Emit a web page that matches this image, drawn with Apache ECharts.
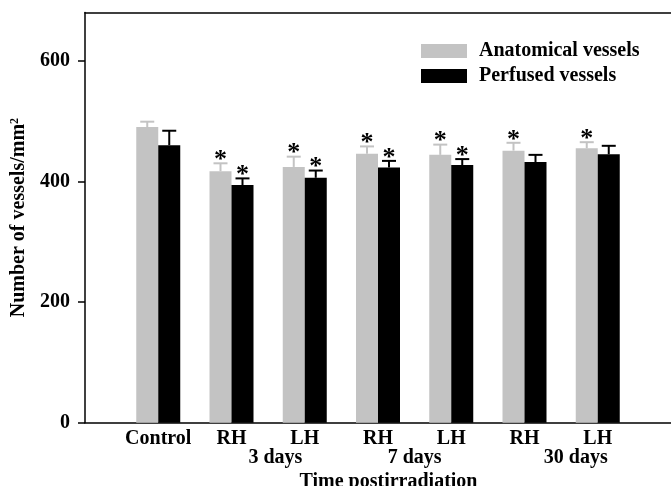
<!DOCTYPE html>
<html>
<head>
<meta charset="utf-8">
<script src="https://cdn.jsdelivr.net/npm/echarts@6/dist/echarts.min.js"></script>
<style>
    html, body { margin: 0; padding: 0; background: #fff; }
    #main { width: 671px; height: 486px; }
</style>
</head>
<body>
<div id="main"></div>
<script>
// 类别与数据
var groups = ['Control', 'RH', 'LH', 'RH', 'LH', 'RH', 'LH'];
var periodNames = ['3 days', '7 days', '30 days'];
var periodPos = [2.6, 4.5, 6.7];
var yTicks = [0, 200, 400, 600];

var anatomical = [490, 417, 424, 446, 444, 451, 455];
var anatomicalErr = [9, 13, 17, 12, 17, 13, 10];
var anatomicalStar = [0, 1, 1, 1, 1, 1, 1];

var perfused = [460, 394, 406, 423, 427, 432, 445];
var perfusedErr = [24, 11, 12, 11, 10, 12, 14];
var perfusedStar = [0, 1, 1, 1, 1, 0, 0];

var grayColor = '#c3c3c3';
var font = '"Liberation Serif", "Times New Roman", serif';
var barW = 22;

// 两端留空的类目轴
var xData = [''].concat(groups).concat(['']);

function pairs(vals) {
    return vals.map(function (v, i) { return [i + 1, v]; });
}
function errData(vals, errs, stars) {
    return vals.map(function (v, i) { return [i + 1, v, errs[i], stars[i]]; });
}

function makeErrRender(offset, color) {
    return function (params, api) {
        var base = api.coord([api.value(0), api.value(1)]);
        var top = api.coord([api.value(0), api.value(1) + api.value(2)]);
        var cx = base[0] + offset;
        var children = [{
            type: 'line',
            shape: { x1: cx, y1: base[1], x2: cx, y2: top[1] },
            style: { stroke: color, lineWidth: 2 }
        }, {
            type: 'line',
            shape: { x1: cx - 7, y1: top[1], x2: cx + 7, y2: top[1] },
            style: { stroke: color, lineWidth: 2 }
        }];
        if (api.value(3)) {
            children.push({
                type: 'text',
                x: cx,
                y: top[1] - 3,
                style: {
                    text: '*',
                    font: 'bold 26px ' + font,
                    fill: '#000',
                    align: 'center',
                    verticalAlign: 'middle'
                }
            });
        }
        return { type: 'group', children: children };
    };
}

var dom = document.getElementById('main');
var myChart = echarts.init(dom);
var option = {
    backgroundColor: '#fff',
    animation: false,
    textStyle: { fontFamily: font },
    legend: {
        orient: 'vertical',
        left: 421,
        top: 41,
        padding: 0,
        icon: 'rect',
        itemWidth: 46,
        itemHeight: 14,
        itemGap: 5,
        data: ['Anatomical vessels', 'Perfused vessels'],
        textStyle: {
            fontFamily: font,
            fontWeight: 'bold',
            fontSize: 20,
            color: '#000',
            padding: [0, 0, 0, 7]
        }
    },
    grid: {
        left: 85,
        right: 0,
        top: 12.5,
        bottom: 63.3,
        containLabel: false,
        outerBoundsMode: 'none'
    },
    xAxis: [{
        type: 'category',
        data: xData,
        boundaryGap: false,
        position: 'bottom',
        name: 'Time postirradiation',
        nameLocation: 'middle',
        nameGap: 49,
        nameTextStyle: {
            fontFamily: font,
            fontWeight: 'bold',
            fontSize: 20,
            color: '#000',
            padding: [0, 0, 0, 21]
        },
        axisLine: { lineStyle: { color: '#000', width: 1.5 } },
        axisTick: { show: false },
        splitLine: { show: false },
        axisLabel: {
            interval: 0,
            margin: 6,
            fontFamily: font,
            fontWeight: 'bold',
            fontSize: 20,
            color: '#000'
        }
    }, {
        type: 'value',
        min: 0,
        max: 8,
        position: 'bottom',
        offset: 19,
        axisLine: { show: false },
        axisTick: { show: false },
        splitLine: { show: false },
        axisLabel: {
            customValues: periodPos,
            margin: 6,
            fontFamily: font,
            fontWeight: 'bold',
            fontSize: 20,
            color: '#000',
            formatter: function (v) {
                for (var i = 0; i < periodPos.length; i++) {
                    if (Math.abs(periodPos[i] - v) < 1e-6) return periodNames[i];
                }
                return '';
            }
        }
    }, {
        type: 'value',
        min: 0,
        max: 8,
        position: 'top',
        axisLine: { show: true, lineStyle: { color: '#000', width: 1.5 } },
        axisTick: { show: false },
        axisLabel: { show: false },
        splitLine: { show: false }
    }],
    yAxis: {
        type: 'value',
        min: 0,
        max: 680,
        interval: 200,
        name: 'Number of vessels/mm{sup|2}',
        nameLocation: 'middle',
        nameGap: 47,
        nameTextStyle: {
            fontFamily: font,
            fontWeight: 'bold',
            fontSize: 20,
            color: '#000',
            rich: {
                sup: {
                    fontFamily: font,
                    fontWeight: 'bold',
                    fontSize: 12,
                    color: '#000',
                    verticalAlign: 'top'
                }
            }
        },
        axisLine: { show: true, lineStyle: { color: '#000', width: 1.5 } },
        axisTick: {
            show: true,
            length: 7,
            customValues: yTicks,
            lineStyle: { color: '#000', width: 1.5 }
        },
        splitLine: { show: false },
        axisLabel: {
            customValues: yTicks,
            margin: 15,
            fontFamily: font,
            fontWeight: 'bold',
            fontSize: 20,
            color: '#000'
        }
    },
    series: [{
        name: 'Anatomical vessels',
        type: 'bar',
        xAxisIndex: 0,
        barWidth: barW,
        barGap: '0%',
        itemStyle: { color: grayColor },
        data: pairs(anatomical)
    }, {
        name: 'Perfused vessels',
        type: 'bar',
        xAxisIndex: 0,
        barWidth: barW,
        barGap: '0%',
        itemStyle: { color: '#000' },
        data: pairs(perfused)
    }, {
        type: 'custom',
        xAxisIndex: 0,
        renderItem: makeErrRender(-barW / 2, grayColor),
        encode: { x: 0, y: 1 },
        z: 3,
        data: errData(anatomical, anatomicalErr, anatomicalStar)
    }, {
        type: 'custom',
        xAxisIndex: 0,
        renderItem: makeErrRender(barW / 2, '#000'),
        encode: { x: 0, y: 1 },
        z: 3,
        data: errData(perfused, perfusedErr, perfusedStar)
    }]
};
if (option && typeof option === "object") {
    myChart.setOption(option, true);
}
</script>
</body>
</html>
